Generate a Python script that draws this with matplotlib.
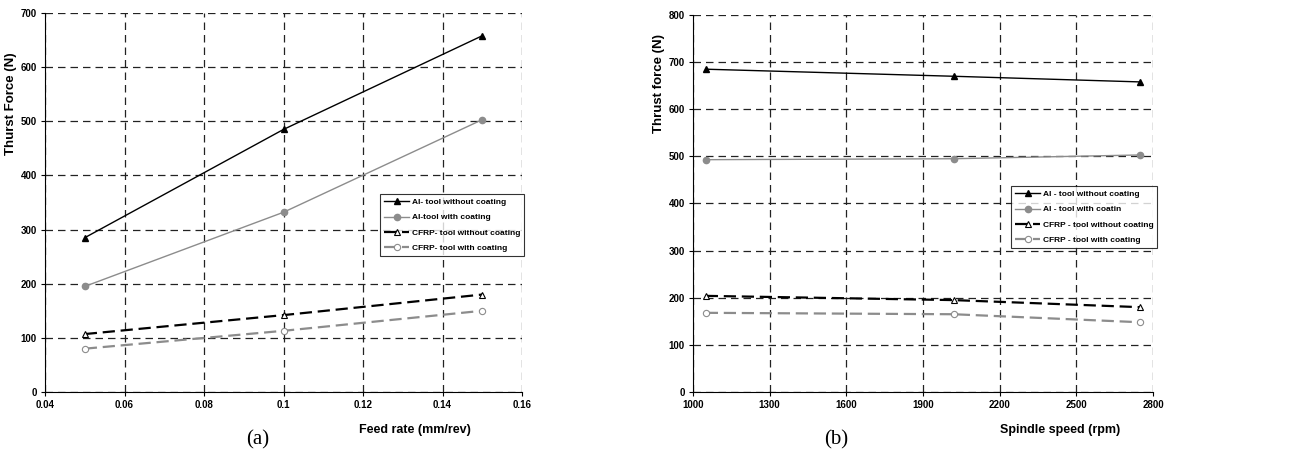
import matplotlib
matplotlib.use("Agg")
import matplotlib.pyplot as plt

# Panel (a)
feed = [0.05, 0.10, 0.15]
a_al_no = [285, 485, 658]
a_al_co = [195, 332, 503]
a_cf_no = [107, 142, 180]
a_cf_co = [80, 113, 150]
a_labels = ["Al- tool without coating", "Al-tool with coating",
            "CFRP- tool without coating", "CFRP- tool with coating"]

# Panel (b)
speed = [1050, 2020, 2750]
b_al_no = [685, 670, 658]
b_al_co = [493, 495, 503]
b_cf_no = [204, 195, 180]
b_cf_co = [168, 165, 148]
b_labels = ["Al - tool without coating", "Al - tool with coatin",
            "CFRP - tool without coating", "CFRP - tool with coating"]

plt.rcParams['font.family'] = ['Liberation Sans', 'DejaVu Sans']
plt.rcParams['font.weight'] = 'bold'

fig = plt.figure(figsize=(12.98, 4.69), dpi=100)
ax1 = fig.add_axes([0.0347, 0.1642, 0.3675, 0.8081])
ax2 = fig.add_axes([0.5339, 0.1642, 0.3544, 0.8038])

GRAY = '#8c8c8c'

def draw(ax, x, s1, s2, s3, s4, labels):
    ax.plot(x, s1, color='black', lw=1.0, marker='^', ms=4.5, mfc='black', mec='black', label=labels[0])
    ax.plot(x, s2, color=GRAY, lw=1.0, marker='o', ms=4.5, mfc=GRAY, mec=GRAY, label=labels[1])
    ax.plot(x, s3, color='black', lw=1.6, dashes=(5.5, 2.6), marker='^', ms=4.5, mfc='white', mec='black', mew=0.8, label=labels[2])
    ax.plot(x, s4, color=GRAY, lw=1.6, dashes=(5.5, 2.6), marker='o', ms=4.5, mfc='white', mec=GRAY, mew=0.8, label=labels[3])
    ax.grid(True, color='#222222', linestyle=(0, (6, 4)), lw=0.9)
    ax.set_axisbelow(True)
    for s in ['top', 'right']:
        ax.spines[s].set_visible(False)
    ax.tick_params(labelsize=7, length=3, direction='out', pad=3)
    for lab in ax.get_xticklabels() + ax.get_yticklabels():
        lab.set_fontweight('bold')

def legend(ax, anchor):
    leg = ax.legend(loc='upper left', bbox_to_anchor=anchor, fontsize=6.0, frameon=True,
                    fancybox=False, edgecolor='black', handlelength=3.0, handletextpad=0.3,
                    borderpad=0.5, labelspacing=0.9, borderaxespad=0)
    leg.get_frame().set_linewidth(0.8)
    for t in leg.get_texts():
        t.set_fontweight('bold')

draw(ax1, feed, a_al_no, a_al_co, a_cf_no, a_cf_co, a_labels)
ax1.set_xlim(0.04, 0.16)
ax1.set_ylim(0, 700)
ax1.set_xticks([0.04, 0.06, 0.08, 0.10, 0.12, 0.14, 0.16])
ax1.set_xticklabels(['0.04', '0.06', '0.08', '0.1', '0.12', '0.14', '0.16'], fontweight='bold')
ax1.set_yticks(range(0, 701, 100))
ax1.set_ylabel('Thurst Force (N)', fontsize=9.5, fontweight='bold')
ax1.yaxis.set_label_coords(-0.058, 0.76)
ax1.set_xlabel('Feed rate (mm/rev)', fontsize=9, fontweight='bold')
ax1.xaxis.set_label_coords(0.776, -0.085)
legend(ax1, (0.702, 0.522))

draw(ax2, speed, b_al_no, b_al_co, b_cf_no, b_cf_co, b_labels)
ax2.set_xlim(1000, 2800)
ax2.set_ylim(0, 800)
ax2.set_xticks(range(1000, 2801, 300))
ax2.set_yticks(range(0, 801, 100))
ax2.set_ylabel('Thrust force (N)', fontsize=9.5, fontweight='bold')
ax2.yaxis.set_label_coords(-0.06, 0.817)
ax2.set_xlabel('Spindle speed (rpm)', fontsize=9, fontweight='bold')
ax2.xaxis.set_label_coords(0.798, -0.085)
legend(ax2, (0.691, 0.546))

fig.text(258 / 1298, 1 - 440 / 469, '(a)', fontsize=15, family=['Liberation Serif', 'DejaVu Serif'],
         fontweight='normal', ha='center', va='center')
fig.text(836 / 1298, 1 - 440 / 469, '(b)', fontsize=15, family=['Liberation Serif', 'DejaVu Serif'],
         fontweight='normal', ha='center', va='center')

fig.savefig('out.png', dpi=100)
